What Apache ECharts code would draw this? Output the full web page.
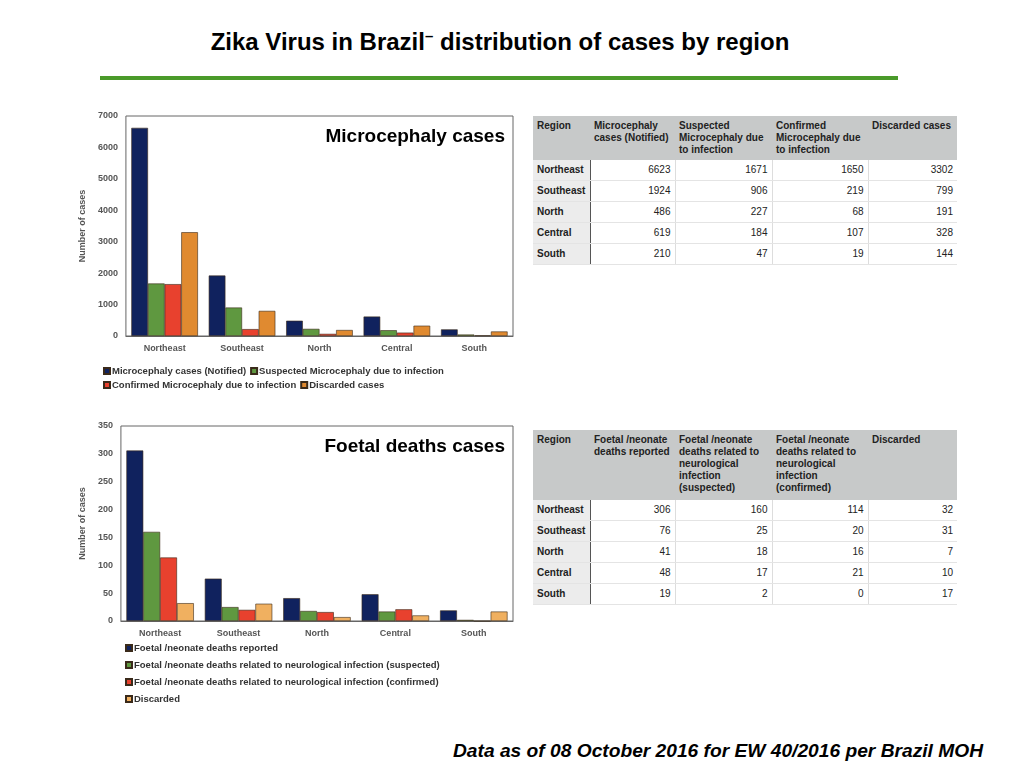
<!DOCTYPE html>
<html lang="en">
<head>
<meta charset="UTF-8">
<title>Zika Virus in Brazil</title>
<script src="https://cdn.jsdelivr.net/npm/echarts/dist/echarts.min.js"></script>
<style>
  body { margin: 0; width: 1024px; height: 768px; background: #fff; font-family: "Liberation Sans", Arial, sans-serif; position: relative; overflow: hidden; }
  #title { position: absolute; left: 0; width: 1000px; top: 27px; text-align: center; font-size: 24px; font-weight: bold; }
  #rule { position: absolute; left: 100px; width: 798px; top: 76px; height: 4px; background: #4a9a2a; }
  #chart1 { position: absolute; left: 70px; top: 105px; width: 460px; height: 295px; }
  #chart2 { position: absolute; left: 70px; top: 415px; width: 460px; height: 295px; }
  table { position: absolute; border-collapse: collapse; table-layout: fixed; font-size: 10px; line-height: 12px; color: #222; }
  th { background: #c7c9c9; font-weight: bold; text-align: left; vertical-align: top; padding: 4px 4px; }
  td { text-align: right; padding: 0 4px; height: 20px; border-bottom: 1px solid #e4e4e4; border-left: 1px solid #ddd; }
  td.r { text-align: left; font-weight: bold; background: #ececec; border-left: none; border-right: 1px solid #555; }
  #t1 { left: 533px; top: 116px; width: 424px; }
  #t1 th { height: 36px; }
  #t2 { left: 533px; top: 430px; width: 424px; }
  #t2 th { height: 62px; }
  #foot { position: absolute; left: 453px; top: 740px; font-size: 19.2px; font-weight: bold; font-style: italic; }
</style>
</head>
<body>
<div id="title">Zika Virus in Brazil<sup style="font-size:15px">–</sup>  distribution of cases by region</div>
<div id="rule"></div>
<div id="chart1"></div>
<div id="chart2"></div>
<table id="t1"></table>
<table id="t2"></table>
<div id="foot">Data as of 08 October 2016 for EW 40/2016 per Brazil MOH</div>
<script>
  var regions = ['Northeast', 'Southeast', 'North', 'Central', 'South'];

  // Microcephaly
  var microNames = ['Microcephaly cases (Notified)', 'Suspected Microcephaly due to infection', 'Confirmed Microcephaly due to infection', 'Discarded cases'];
  var microNotified = [6623, 1924, 486, 619, 210];
  var microSuspected = [1671, 906, 227, 184, 47];
  var microConfirmed = [1650, 219, 68, 107, 19];
  var microDiscarded = [3302, 799, 191, 328, 144];

  // Foetal deaths
  var foetalNames = ['Foetal /neonate deaths reported', 'Foetal /neonate deaths related to neurological infection (suspected)', 'Foetal /neonate deaths related to neurological infection (confirmed)', 'Discarded'];
  var foetalReported = [306, 76, 41, 48, 19];
  var foetalSuspected = [160, 25, 18, 17, 2];
  var foetalConfirmed = [114, 20, 16, 21, 0];
  var foetalDiscarded = [32, 31, 7, 10, 17];

  var colWidths = [57, 85, 97, 96, 89];

  function buildTable(id, headers, cols) {
    var html = '<colgroup>' + colWidths.map(function (w) { return '<col style="width:' + w + 'px">'; }).join('') + '</colgroup>';
    html += '<tr><th>Region</th>' + headers.map(function (h) { return '<th>' + h + '</th>'; }).join('') + '</tr>';
    regions.forEach(function (r, i) {
      html += '<tr><td class="r">' + r + '</td>' + cols.map(function (c) { return '<td>' + c[i] + '</td>'; }).join('') + '</tr>';
    });
    document.getElementById(id).innerHTML = html;
  }
  buildTable('t1', microNames, [microNotified, microSuspected, microConfirmed, microDiscarded]);
  buildTable('t2', foetalNames, [foetalReported, foetalSuspected, foetalConfirmed, foetalDiscarded]);

  function makeChart(el, label, names, data, colors, max, interval, grid, legend) {
    var chart = echarts.init(document.getElementById(el));
    var txt = { fontFamily: 'Liberation Sans', fontWeight: 'bold', color: '#555', fontSize: 9 };
    chart.setOption({
      animation: false,
      title: { text: label, right: 20, top: grid.top + 6, textStyle: { fontSize: 19, fontWeight: 'bold', color: '#000', fontFamily: 'Liberation Sans' } },
      grid: grid,
      legend: Object.assign({ icon: 'rect', itemWidth: 6, itemHeight: 6, itemGap: 4, textStyle: Object.assign({}, txt, { fontSize: 9.5, color: '#333', padding: [0, 0, 0, -3] }), data: names }, legend),
      xAxis: { type: 'category', data: regions, axisTick: { show: false }, axisLine: { lineStyle: { color: '#666' } },
        axisLabel: Object.assign({}, txt, { margin: 8 }) },
      yAxis: { type: 'value', min: 0, max: max, interval: interval, name: 'Number of cases', nameLocation: 'middle', nameGap: 30,
        nameTextStyle: txt, axisLabel: Object.assign({ formatter: function (v) { return String(v); } }, txt), splitLine: { show: false }, axisLine: { show: false } },
      series: data.map(function (d, i) {
        return { name: names[i], type: 'bar', data: d, barGap: '0%', barCategoryGap: '14%',
          itemStyle: { color: colors[i], borderColor: '#3a2a1a', borderWidth: 0.6 } };
      })
    });
    return chart;
  }

  makeChart('chart1', 'Microcephaly cases', microNames,
    [microNotified, microSuspected, microConfirmed, microDiscarded],
    ['#10225e', '#5f9840', '#e8412e', '#e08a30'], 7000, 1000,
    { left: 50, right: 17, top: 11, bottom: 64, show: true, borderColor: '#666', borderWidth: 1 },
    { left: 28, top: 256, width: 420, itemGap: 4 });

  makeChart('chart2', 'Foetal deaths cases', foetalNames,
    [foetalReported, foetalSuspected, foetalConfirmed, foetalDiscarded],
    ['#10225e', '#5f9840', '#e8412e', '#f0b060'], 350, 50,
    { left: 48, right: 17, top: 11, bottom: 89, show: true, borderColor: '#666', borderWidth: 1 },
    { left: 55, top: 228, height: 70, orient: 'vertical', itemGap: 7, padding: 0 });
</script>
</body>
</html>
